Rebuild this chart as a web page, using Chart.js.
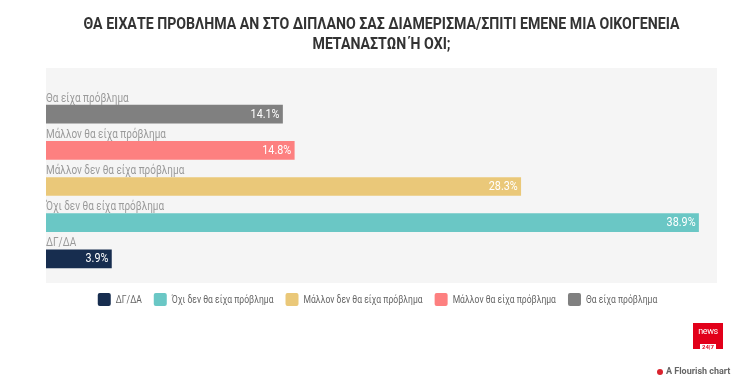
<!DOCTYPE html>
<html>
<head>
<meta charset="utf-8">
<script src="https://cdn.jsdelivr.net/npm/chart.js@4/dist/chart.umd.min.js"></script>
<style>
  html, body { margin: 0; padding: 0; background: #fff; }
  #wrap { position: relative; width: 734px; height: 386px; }
  #logo {
    position: absolute; left: 693px; top: 323px; width: 30px; height: 26px;
    background: #e2001a; color: #fff; font-family: Roboto, sans-serif;
    text-align: center; line-height: 1;
  }
  #logo .n { font-size: 9px; margin-top: 4px; letter-spacing: -0.4px; }
  #logo .d { display: inline-block; margin-top: 1px; background: #fff; color: #e2001a; font-size: 6px; font-weight: bold; padding: 0 2px; }
  #flourish {
    position: absolute; left: 657px; top: 366px; white-space: nowrap;
    font-family: Roboto, Arial, sans-serif; font-size: 9px; color: #666; font-weight: bold;
  }
  #flourish .dot { display: inline-block; width: 6px; height: 6px; border-radius: 50%; background: #d9232e; margin-right: 3px; vertical-align: -0.5px; }
</style>
</head>
<body>
<div id="wrap">
  <canvas id="chart"></canvas>
  <div id="logo"><div class="n">news</div><span class="d">24|7</span></div>
  <div id="flourish"><span class="dot"></span>A Flourish chart</div>
</div>
<script>
// datos del gráfico
const titleLines = [
    'ΘΑ ΕΙΧΑΤΕ ΠΡΟΒΛΗΜΑ ΑΝ ΣΤΟ ΔΙΠΛΑΝΟ ΣΑΣ ΔΙΑΜΕΡΙΣΜΑ/ΣΠΙΤΙ ΕΜΕΝΕ ΜΙΑ ΟΙΚΟΓΕΝΕΙΑ',
    'ΜΕΤΑΝΑΣΤΩΝ Ή ΟΧΙ;'
];
const categories = [
    'Θα είχα πρόβλημα',
    'Μάλλον θα είχα πρόβλημα',
    'Μάλλον δεν θα είχα πρόβλημα',
    'Όχι δεν θα είχα πρόβλημα',
    'ΔΓ/ΔΑ'
];
const values = [14.1, 14.8, 28.3, 38.9, 3.9];
const barColors = ['#808080', '#fd8080', '#eac879', '#6ac7c5', '#172d4f'];
const xMax = 40;

const FONT = "Roboto, 'Liberation Sans', sans-serif";

// texto comprimido (imitando una fuente condensada)
function condensedText(ctx, text, x, y, factor) {
    const w = ctx.measureText(text).width;
    ctx.fillText(text, x, y, w * factor);
    return w * factor;
}

const decorPlugin = {
    id: 'decor',
    beforeDraw(chart) {
        const { ctx, chartArea } = chart;
        const cx = (chartArea.left + chartArea.right) / 2;
        ctx.save();
        // fondo gris del área
        ctx.fillStyle = '#f5f5f5';
        ctx.fillRect(chartArea.left, chartArea.top - 28, chartArea.right - chartArea.left, chartArea.bottom - chartArea.top + 6 + 28);

        // título
        ctx.font = 'bold 16px ' + FONT;
        ctx.fillStyle = '#333';
        ctx.textAlign = 'center';
        ctx.textBaseline = 'middle';
        titleLines.forEach((line, i) => {
            condensedText(ctx, line, cx, 25 + i * 20, 0.885);
        });

        // leyenda (orden inverso)
        const order = categories.map((c, i) => i).reverse();
        ctx.font = '11px ' + FONT;
        const k = 0.78;
        const box = 13, gapBox = 5, gapItem = 12;
        const widths = order.map(i => ctx.measureText(categories[i]).width * k);
        const total = widths.reduce((a, w) => a + box + gapBox + w, 0) + gapItem * (order.length - 1);
        let x = cx - total / 2 - 4;
        const ly = 299.5;
        ctx.textAlign = 'left';
        order.forEach((i, j) => {
            ctx.fillStyle = barColors[i];
            ctx.beginPath();
            ctx.roundRect(x, ly - box / 2, box, box, 2);
            ctx.fill();
            x += box + gapBox;
            ctx.fillStyle = '#666';
            condensedText(ctx, categories[i], x, ly + 0.5, k);
            x += widths[j] + gapItem;
        });
        ctx.restore();
    },
    afterDatasetsDraw(chart) {
        const { ctx } = chart;
        const meta = chart.getDatasetMeta(0);
        ctx.save();
        meta.data.forEach((bar, i) => {
            const top = bar.y - bar.height / 2;
            ctx.font = '12px ' + FONT;
            ctx.textAlign = 'left';
            ctx.textBaseline = 'alphabetic';
            ctx.fillStyle = '#9a9a9a';
            condensedText(ctx, categories[i], bar.base, top - 3.5, 0.83);

            ctx.textAlign = 'right';
            ctx.textBaseline = 'middle';
            ctx.fillStyle = '#ffffff';
            condensedText(ctx, values[i].toFixed(1) + '%', bar.x - 3, bar.y + 0.5, 0.9);
        });
        ctx.restore();
    }
};

new Chart(document.getElementById('chart'), {
    type: 'bar',
    data: {
        labels: categories,
        datasets: [{
            data: values,
            backgroundColor: barColors,
            barThickness: 18
        }]
    },
    options: {
        indexAxis: 'y',
        responsive: true,
        maintainAspectRatio: false,
        animation: false,
        layout: { padding: { left: 46, right: 17, top: 96, bottom: 109 } },
        scales: {
            x: { display: false, min: 0, max: xMax },
            y: { display: false }
        },
        plugins: {
            title: { display: false },
            legend: { display: false },
            tooltip: { enabled: false }
        }
    },
    plugins: [decorPlugin]
});
</script>
</body>
</html>
